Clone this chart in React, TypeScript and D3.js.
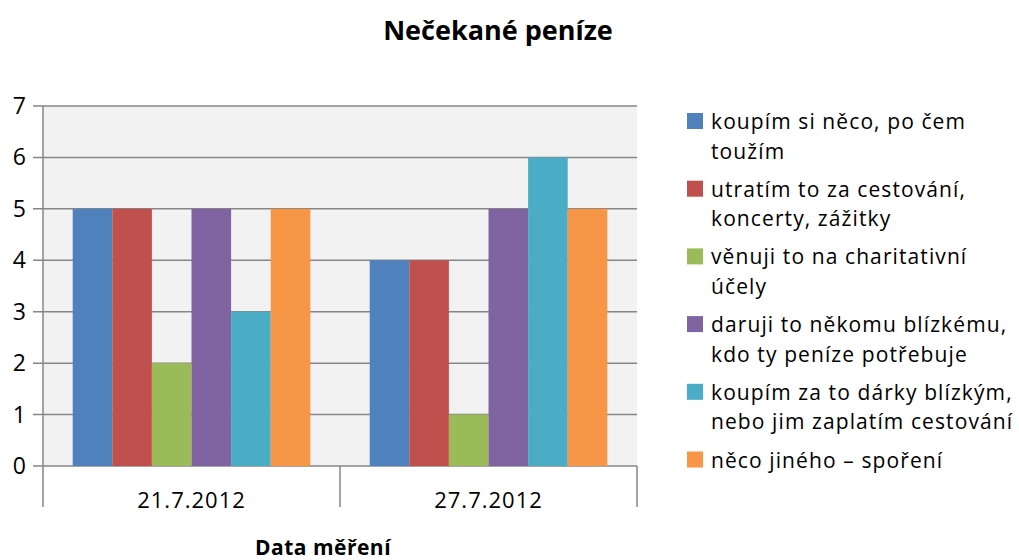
import React, { useEffect, useRef } from "react";
import * as d3 from "d3";

const dates = ["21.7.2012", "27.7.2012"];
const seriesNames = [
  ["koupím si něco, po čem", "toužím"],
  ["utratím to za cestování,", "koncerty, zážitky"],
  ["věnuji to na charitativní", "účely"],
  ["daruji to někomu blízkému,", "kdo ty peníze potřebuje"],
  ["koupím za to dárky blízkým,", "nebo jim zaplatím cestování"],
  ["něco jiného – spoření"],
];
const seriesKeys = ["s1", "s2", "s3", "s4", "s5", "s6"];
const values21 = [5, 5, 2, 5, 3, 5];
const values27 = [4, 4, 1, 5, 6, 5];
const colors = ["#4F81BD", "#C0504D", "#9BBB59", "#8064A2", "#4BACC6", "#F79646"];
const yTicks = [0, 1, 2, 3, 4, 5, 6, 7];

const FONT = "'Open Sans', sans-serif";

export default function App() {
  const svgRef = useRef<SVGSVGElement>(null);

  useEffect(() => {
    const svg = d3.select(svgRef.current);
    svg.selectAll("*").remove();

    const left = 43, right = 637, top = 106, bottom = 466;

    const rows = [values21, values27].map((vals, i) => ({
      date: dates[i],
      values: vals.map((v, j) => ({ key: seriesKeys[j], value: v, color: colors[j] })),
    }));

    const x0 = d3.scaleBand().domain(dates).range([left, right]).padding(0);
    const x1 = d3.scaleBand()
      .domain(seriesKeys)
      .range([0, x0.bandwidth()])
      .paddingInner(0)
      .paddingOuter(0.75);
    const y = d3.scaleLinear().domain([0, 7]).range([bottom, top]);

    // plot background
    svg.append("rect")
      .attr("x", left).attr("y", top)
      .attr("width", right - left).attr("height", bottom - top)
      .attr("fill", "#F2F2F2");

    // gridlines
    svg.append("g")
      .selectAll("line")
      .data(yTicks)
      .join("line")
      .attr("x1", left - 10).attr("x2", right)
      .attr("y1", d => y(d)).attr("y2", d => y(d))
      .attr("stroke", "#868686")
      .attr("stroke-width", 1.5);

    // y labels
    svg.append("g")
      .selectAll("text")
      .data(yTicks)
      .join("text")
      .attr("x", 26)
      .attr("y", d => y(d) + 8)
      .attr("text-anchor", "end")
      .style("font-family", FONT)
      .style("font-size", "23px")
      .attr("fill", "#000")
      .text(d => d);

    // bars
    const groups = svg.append("g")
      .selectAll("g")
      .data(rows)
      .join("g")
      .attr("transform", d => `translate(${x0(d.date)},0)`);

    groups.selectAll("rect")
      .data(d => d.values)
      .join("rect")
      .attr("x", d => x1(d.key)!)
      .attr("y", d => y(d.value))
      .attr("width", x1.bandwidth())
      .attr("height", d => bottom - y(d.value))
      .attr("fill", d => d.color);

    // y axis line
    svg.append("line")
      .attr("x1", left).attr("x2", left)
      .attr("y1", top).attr("y2", bottom)
      .attr("stroke", "#868686").attr("stroke-width", 1.5);

    // category ticks
    const catEdges = [left, ...dates.map(d => x0(d)! + x0.bandwidth())];
    svg.append("g")
      .selectAll("line")
      .data(catEdges)
      .join("line")
      .attr("x1", d => d).attr("x2", d => d)
      .attr("y1", bottom).attr("y2", 507)
      .attr("stroke", "#868686").attr("stroke-width", 1.5);

    // category labels
    svg.append("g")
      .selectAll("text")
      .data(dates)
      .join("text")
      .attr("x", d => x0(d)! + x0.bandwidth() / 2)
      .attr("y", 508)
      .attr("text-anchor", "middle")
      .style("font-family", FONT)
      .style("font-size", "22px")
      .style("letter-spacing", "1px")
      .text(d => d);

    // axis title
    svg.append("text")
      .attr("x", 323).attr("y", 555)
      .attr("text-anchor", "middle")
      .style("font-family", FONT)
      .style("font-size", "21px")
      .style("letter-spacing", "0.5px")
      .style("font-weight", "bold")
      .text("Data měření");

    // chart title
    svg.append("text")
      .attr("x", 498).attr("y", 40)
      .attr("text-anchor", "middle")
      .style("font-family", FONT)
      .style("font-size", "27px")
      .style("font-weight", "bold")
      .text("Nečekané peníze");

    // legend
    const legend = svg.append("g")
      .selectAll("g")
      .data(seriesNames)
      .join("g")
      .attr("transform", (d, i) => `translate(687,${113 + i * 67.7})`);

    legend.append("rect")
      .attr("width", 16).attr("height", 16)
      .attr("fill", (d, i) => colors[i]);

    legend.append("text")
      .attr("x", 24)
      .attr("y", 16)
      .style("font-family", FONT)
      .style("font-size", "21px")
      .style("letter-spacing", "1.1px")
      .selectAll("tspan")
      .data(d => d)
      .join("tspan")
      .attr("x", 24)
      .attr("dy", (d, i) => (i === 0 ? 0 : 29.5))
      .text(d => d);
  }, []);

  return (
    <svg
      ref={svgRef}
      width={1019}
      height={560}
      style={{ position: "absolute", left: 0, top: 0, background: "#fff" }}
    />
  );
}
